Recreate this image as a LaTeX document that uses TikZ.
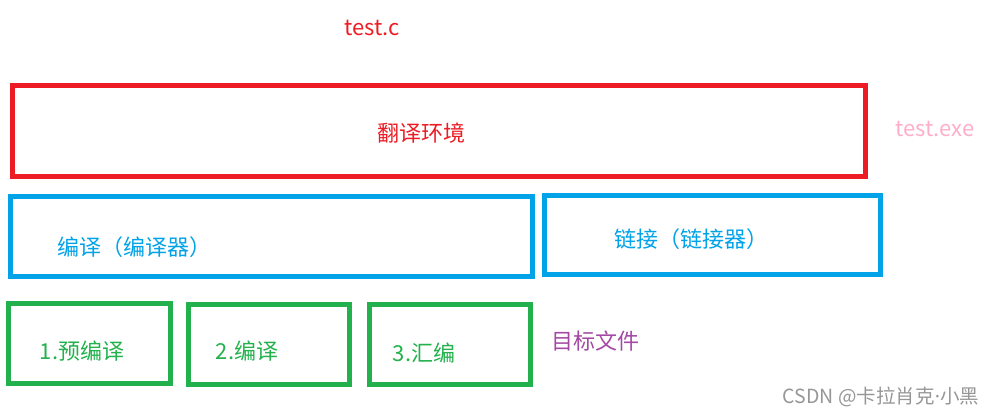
\documentclass[tikz,border=0pt]{standalone}
\usepackage{fontspec}
\setmainfont{Noto Sans CJK SC}
\newfontfamily\latinfont{Noto Sans}
\usepackage{tikz}
\usetikzlibrary{positioning}
\definecolor{envred}{RGB}{237,28,36}
\definecolor{stepblue}{RGB}{0,162,232}
\definecolor{stagegreen}{RGB}{34,177,76}
\definecolor{exepink}{RGB}{255,174,201}
\definecolor{objviolet}{RGB}{163,73,164}
\definecolor{markgray}{RGB}{150,150,150}
\tikzset{
    framebox/.style={rectangle, draw=#1, line width=5pt, inner sep=0pt},
    boxtext/.style={font=\fontsize{22}{25}\selectfont, text=#1, inner sep=0pt},
}

\begin{document}
\begin{tikzpicture}[x=1pt, y=-1pt]
\useasboundingbox (0,0) rectangle (994,414);

% outer environment
\node[framebox=envred, minimum width=853pt, minimum height=91.5pt] (env-box) at (439,131.25) {};
\node[boxtext=envred] (env-text) at (421,133) {翻译环境};
\node[boxtext=envred] (src-file) at (372,28) {test.c};
\node[boxtext=exepink] (exe-file) at (935,129) {test.exe};

% compile and link
\node[framebox=stepblue, minimum width=522pt, minimum height=80pt] (comp-box) at (271.5,236.5) {};
\node[boxtext=stepblue] (comp-text) at (134,247) {编译（编译器）};
\node[framebox=stepblue, minimum width=336pt, minimum height=79.5pt] (link-box) at (712.5,235.25) {};
\node[boxtext=stepblue] (link-text) at (691,239) {链接（链接器）};

% compile stages
\node[framebox=stagegreen, minimum width=162pt, minimum height=79pt] (pre-box) at (89.5,343.5) {};
\node[boxtext=stagegreen] (pre-text) at (82,351) {1.预编译};
\node[framebox=stagegreen, minimum width=160.5pt, minimum height=79.5pt] (cc-box) at (268.75,344.25) {};
\node[boxtext=stagegreen] (cc-text) at (247,351) {2.编译};
\node[framebox=stagegreen, minimum width=161pt, minimum height=79.5pt] (asm-box) at (450,344.75) {};
\node[boxtext=stagegreen] (asm-text) at (424,353) {3.汇编};
\node[boxtext=objviolet] (obj-file) at (595,341) {目标文件};

\node[font=\fontsize{19.5}{22}\selectfont, text=markgray, inner sep=0pt] (mark) at (881,397) {CSDN @卡拉肖克{\latinfont ·}小黑};

\end{tikzpicture}
\end{document}
